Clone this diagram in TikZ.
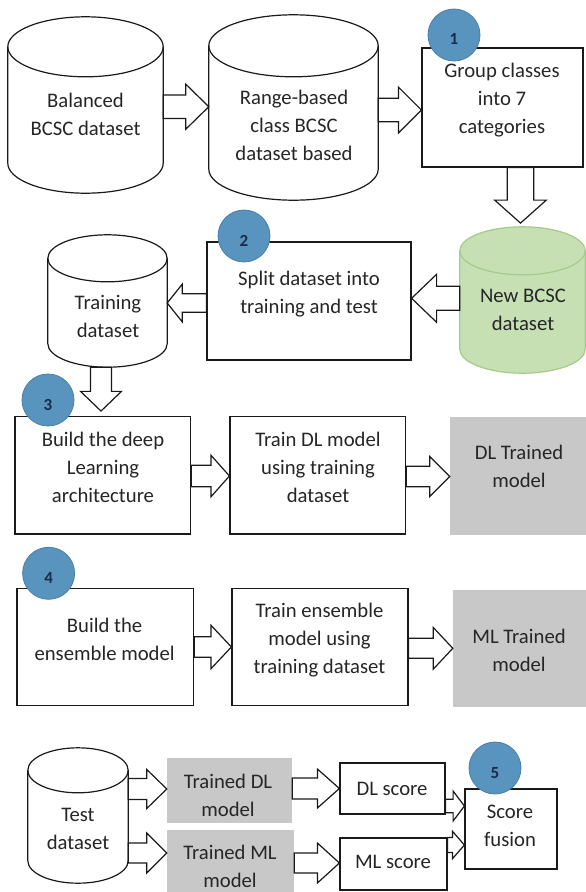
\documentclass[tikz,border=0pt]{standalone}
\usepackage{fontspec}
\setmainfont{Carlito}
\usetikzlibrary{calc}

\definecolor{ink}{HTML}{1A1A1A}
\definecolor{txtcol}{HTML}{262626}
\definecolor{badgefill}{HTML}{5894BE}
\definecolor{badgeline}{HTML}{4A7EA6}
\definecolor{badgetxt}{HTML}{1C2A4C}
\definecolor{modelgray}{HTML}{C8C8C8}
\definecolor{newfill}{HTML}{C6E0B4}
\definecolor{newline}{HTML}{A3CC8A}

\tikzset{
  dims/.style 2 args={minimum width=#1pt, minimum height=#2pt},
  frame/.style={rectangle, draw=ink, line width=1.2pt, fill=white, inner sep=0pt},
  graybox/.style={rectangle, fill=modelgray, draw=none, inner sep=0pt},
  canarea/.style={rectangle, draw=none, inner sep=0pt},
  canline/.style={draw=ink, line width=1.2pt, fill=white},
  greencan/.style={draw=newline, line width=1.2pt, fill=newfill},
  txt/.style={align=center, font=\fontsize{20.7}{28}\selectfont, text=txtcol, inner sep=0pt},
  badge/.style={circle, fill=badgefill, draw=badgeline, line width=0.8pt,
                minimum size=52pt, inner sep=0pt},
  badgenum/.style={font=\fontsize{17}{17}\selectfont\bfseries, text=badgetxt, inner sep=0pt},
  blockarr/.style={draw=ink, fill=white, line width=1.2pt, line join=miter},
}

% database "can" drawn over the extent of a named node: #1 node, #2 ellipse y radius, #3 style
\newcommand\drawcan[3]{%
  \filldraw[#3] let \p1=(#1.north west), \p2=(#1.south east), \n1={(\x2-\x1)/2} in
    (\x1,{\y1-#2pt}) -- (\x1,{\y2+#2pt})
    arc[start angle=180, end angle=360, x radius=\n1, y radius=#2pt]
    -- (\x2,{\y1-#2pt})
    arc[start angle=0, end angle=180, x radius=\n1, y radius=#2pt] -- cycle;
  \draw[#3, fill=none] let \p1=(#1.north west), \p2=(#1.south east), \n1={(\x2-\x1)/2} in
    (\x1,{\y1-#2pt}) arc[start angle=180, end angle=360, x radius=\n1, y radius=#2pt];
}

% hollow block arrow: #1 start, #2 tip, #3 shaft half width, #4 head half width, #5 head length
\newcommand\blockarrow[5]{%
  \path let \p1=#1, \p2=#2, \n1={atan2(\y2-\y1,\x2-\x1)}, \n2={veclen(\x2-\x1,\y2-\y1)} in
    \pgfextra{\xdef\bkang{\n1}\xdef\bklen{\n2}\xdef\bkx{\x1}\xdef\bky{\y1}};
  \draw[blockarr, shift={(\bkx,\bky)}, rotate=\bkang]
    (0pt,-#3pt) -- ({\bklen-#5pt},-#3pt) -- ({\bklen-#5pt},-#4pt) -- (\bklen,0pt)
    -- ({\bklen-#5pt},#4pt) -- ({\bklen-#5pt},#3pt) -- (0pt,#3pt) -- cycle;
}

\begin{document}
\begin{tikzpicture}[x=1pt, y=1pt]
\useasboundingbox (0,0) rectangle (586,-892);

% ---------- row 1 ----------
\node[canarea, dims={155}{176}] (A) at (85.5,-105) {};
\drawcan{A}{30}{canline}
\node[txt] (At) at (85.5,-114) {Balanced\\BCSC dataset};

\node[canarea, dims={169}{185}] (B) at (293.5,-107.5) {};
\drawcan{B}{31}{canline}
\node[txt] (Bt) at (294,-125.5) {Range-based\\class BCSC\\dataset based};

\node[frame, dims={161}{119}] (C) at (502.5,-107.5) {};
\node[txt] (Ct) at (502,-100.5) {Group classes\\into 7\\categories};

% ---------- row 2 ----------
\node[canarea, dims={125}{146}] (D) at (522.5,-300) {};
\drawcan{D}{24}{greencan}
\node[txt] (Dt) at (523,-310) {New BCSC\\dataset};

\node[frame, dims={204}{118}] (E) at (309,-301) {};
\node[txt] (Et) at (309,-294) {Split dataset into\\training and test};

\node[canarea, dims={119}{132}] (F) at (107.5,-301) {};
\drawcan{F}{23.5}{canline}
\node[txt] (Ft) at (108,-316.5) {Training\\dataset};

% ---------- row 3 ----------
\node[frame, dims={175.6}{117.3}] (G) at (102.8,-475.3) {};
\node[txt] (Gt) at (103,-467) {Build the deep\\Learning\\architecture};

\node[frame, dims={175.5}{117.3}] (H) at (317.8,-475.3) {};
\node[txt] (Ht) at (318,-467) {Train DL model\\using training\\dataset};

\node[graybox, dims={136}{118.3}] (I) at (518,-475.8) {};
\node[txt] (It) at (519,-466.7) {DL Trained\\model};

% ---------- row 4 ----------
\node[frame, dims={176.6}{117.4}] (J) at (105.3,-647) {};
\node[txt] (Jt) at (104.6,-639) {Build the\\ensemble model};

\node[frame, dims={176}{117.4}] (K) at (320,-647) {};
\node[txt] (Kt) at (319.5,-639.7) {Train ensemble\\model using\\training dataset};

\node[graybox, dims={133}{116.7}] (L) at (519.5,-648.3) {};
\node[txt] (Lt) at (519,-650) {ML Trained\\model};

% ---------- row 5 ----------
\node[canarea, dims={100}{135}] (M) at (78,-815.5) {};
\drawcan{M}{22.5}{canline}
\node[txt] (Mt) at (78,-829) {Test\\dataset};

\node[graybox, dims={125}{65}] (N) at (229.5,-790.5) {};
\node[txt] (Nt) at (228,-795.5) {Trained DL\\model};

\node[graybox, dims={127}{62}] (O) at (230.5,-861) {};
\node[txt] (Ot) at (230,-866.5) {Trained ML\\model};

\node[frame, dims={105}{51}] (P) at (392.5,-788.5) {};
\node[txt] (Pt) at (392,-789) {DL score};

\node[frame, dims={107}{52}] (Q) at (393.5,-864) {};
\node[txt] (Qt) at (393,-862) {ML score};

\node[frame, dims={92}{80}] (R) at (511,-829) {};
\node[txt] (Rt) at (510,-825.5) {Score\\fusion};

% ---------- block arrows ----------
\blockarrow{([yshift=-1.7pt]A.east)}{([yshift=0.8pt]B.west)}{11.7}{22.5}{23}
\blockarrow{([yshift=-2.5pt]B.east)}{([yshift=-2.5pt]C.west)}{11.7}{23}{23}
\blockarrow{([xshift=18pt]C.south)}{([xshift=-2pt,yshift=3.7pt]D.north)}{13.3}{25.8}{23}
\blockarrow{([yshift=1.7pt]D.west)}{([yshift=2.7pt]E.east)}{12}{24}{25}
\blockarrow{([yshift=-2pt]E.west)}{([yshift=-2pt]F.east)}{9.2}{18.8}{15}
\blockarrow{([xshift=-6.5pt]F.south)}{([xshift=-1.8pt,yshift=5pt]G.north)}{10.5}{20.5}{19.7}
\blockarrow{([yshift=-0.7pt]G.east)}{([yshift=-0.7pt]H.west)}{10.8}{20.8}{18.5}
\blockarrow{([yshift=-1.2pt]H.east)}{([yshift=-0.7pt]I.west)}{10.3}{20}{20}
\blockarrow{(J.east)}{(K.west)}{10.3}{21.7}{20.4}
\blockarrow{([yshift=-1.3pt]K.east)}{(L.west)}{10}{20.8}{19.5}
\blockarrow{([yshift=26.5pt]M.east)}{([yshift=1.5pt]N.west)}{10.5}{19.5}{20}
\blockarrow{([yshift=-37.5pt]M.east)}{([yshift=8pt]O.west)}{10}{20}{20}
\blockarrow{([yshift=2pt]N.east)}{(P.west)}{10.5}{19.5}{22}
\blockarrow{([yshift=-2pt]O.east)}{([yshift=1pt]Q.west)}{10}{20}{22}
\blockarrow{([yshift=-17.5pt]P.east)}{([yshift=23pt]R.west)}{6.8}{15}{11.3}
\blockarrow{([yshift=19pt]Q.east)}{([yshift=-16pt]R.west)}{7.5}{13.8}{12}

% ---------- step badges ----------
\node[badge] (b1) at (454,-35) {};
\node[badgenum] (b1n) at ([yshift=-4pt]b1.center) {1};
\node[badge] (b2) at (244,-236) {};
\node[badgenum] (b2n) at ([yshift=-5pt]b2.center) {2};
\node[badge] (b3) at (48,-400) {};
\node[badgenum] (b3n) at ([yshift=-5pt]b3.center) {3};
\node[badge] (b4) at (48.6,-573.3) {};
\node[badgenum] (b4n) at ([yshift=-5pt]b4.center) {4};
\node[badge] (b5) at (495,-768) {};
\node[badgenum] (b5n) at ([yshift=-5pt]b5.center) {5};
\end{tikzpicture}
\end{document}
